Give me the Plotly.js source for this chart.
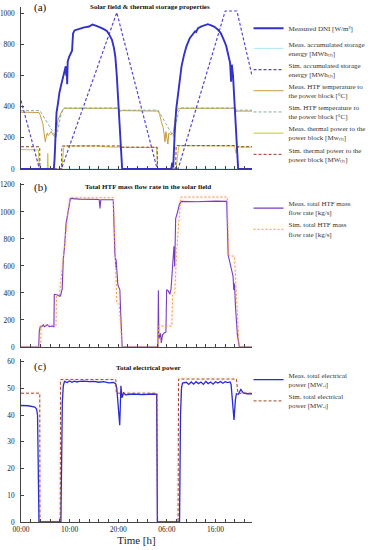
<!DOCTYPE html>
<html><head><meta charset="utf-8">
<script src="https://cdn.plot.ly/plotly-3.0.1.min.js"></script>
<style>html,body{margin:0;padding:0;background:#fff}#g{width:371px;height:550px}</style>
</head><body><div id="g"></div>
<script>
// ---------- x axis ticks ----------
const tickHours = [0, 10, 20, 30, 40];
const tickLabels = ['00:00', '10:00', '20:00', '06:00', '16:00'];

// ---------- (a) Solar field & thermal storage ----------
const dniT = [0,6.75,6.9,7.1,7.3,7.6,7.9,8.3,8.7,9.0,9.2,9.3,9.4,9.5,9.6,9.9,10.3,10.5,10.7,11.0,11.5,12.0,13.0,14.0,14.7,15.5,16.0,16.6,17.2,17.7,18.2,18.7,19.1,19.4,19.7,19.9,20.2,20.5,20.8,
  30.9,31.1,31.3,31.45,31.6,31.9,32.3,32.6,33.0,33.5,34.0,34.7,35.4,35.8,36.0,36.4,37.0,37.7,38.4,39.1,39.8,40.5,41.1,41.7,42.2,42.6,43.0,43.2,43.35,43.6,43.9,44.2,44.45,44.65,47.5];
const dniV = [0,0,60,230,360,420,490,545,590,625,660,600,650,545,690,720,750,760,870,890,895,900,910,915,928,920,915,905,895,885,860,830,780,720,600,480,300,130,0,
  0,40,10,150,230,380,487,580,658,730,786,840,872,885,880,904,915,925,930,922,913,895,872,830,790,735,680,560,670,600,420,250,100,0,0];

const mStoT = [0, 47.5];
const mStoV = [0, 0];

const sStoT = [0,3.8,8.3,19.7,28.0,32.3,42.0,44.4,47.5];
const sStoV = [440,0,0,1005,0,0,1015,1015,600];

const mTempT = [0,3.7,3.9,4.2,4.5,4.75,5.0,5.2,5.4,5.6,5.9,6.2,6.6,6.9,7.2,7.6,8.0,8.3,8.6,8.9,20.0,20.3,20.6,28.2,28.5,28.9,29.2,29.4,29.6,29.8,30.0,30.2,30.4,30.7,31.0,31.3,31.6,31.9,32.4,44.0,44.2,44.5,47.5];
const mTempV = [365,363,350,320,290,230,175,208,230,215,225,240,220,208,220,315,345,365,382,390,390,368,375,372,350,300,270,230,175,240,200,160,230,220,225,230,300,365,390,390,368,372,372];

const sTempT = [0,3.9,7.2,7.6,8.2,8.7,9.0,20.0,20.3,28.2,31.3,31.8,32.4,33.0,44.0,44.3,47.5];
const sTempV = [375,375,205,250,350,385,392,392,378,378,210,280,370,392,392,378,378];

const mPowT = [0,3.6,3.75,5.4,5.5,5.6,8.4,8.6,8.8,9.0,16.0,17.0,20.0,27.9,28.1,31.9,32.1,32.4,32.7,43.8,44.0,44.2,44.4,47.5];
const mPowV = [125,122,0,0,100,0,0,70,140,148,148,143,140,138,0,0,60,140,150,148,135,100,140,141];

const sPowT = [0,3.85,3.9,8.3,8.4,8.5,20.5,20.7,28.0,28.05,31.8,31.9,44.0,44.1,47.5];
const sPowV = [143,143,0,0,140,148,148,140,140,0,0,150,150,143,143];

// ---------- (b) Total HTF mass flow rate ----------
const mFlowT = [0,3.65,3.75,3.95,4.3,4.6,4.8,5.1,5.4,5.8,6.3,6.77,6.85,7.5,8.0,8.13,8.47,8.7,8.8,8.85,8.95,9.28,9.62,10.16,12,14,16.06,16.25,16.4,18.97,19.1,19.3,19.45,19.5,19.55,19.92,20.33,20.5,20.8,
  28.15,28.25,28.35,28.7,28.85,29.1,29.5,29.8,29.95,30.3,30.6,30.85,31.1,31.3,31.45,31.6,31.8,32.1,32.6,33.0,36,40,42.3,42.6,43.2,43.4,43.6,43.75,43.9,44.1,44.5,44.9,47.5];
const mFlowV = [0,0,115,150,150,165,150,155,165,150,155,150,390,385,375,380,430,650,720,680,740,917,977,1100,1095,1095,1092,1025,1090,1090,810,695,633,590,650,460,423,250,0,
  0,420,60,100,30,90,105,110,425,415,390,430,560,670,745,595,950,988,1060,1078,1075,1080,1078,680,595,560,525,423,470,300,90,0,0];

const sFlowT = [0,4.05,4.1,7.2,7.3,7.9,8.5,9.2,9.8,10.1,19.0,19.4,19.5,19.7,20.2,20.8,28.2,28.3,31.0,31.2,31.6,32.0,32.5,32.9,42.4,42.7,43.9,44.4,44.85,47.5];
const sFlowV = [0,0,160,160,375,385,600,850,1040,1105,1105,680,520,330,315,0,0,155,155,385,395,700,950,1110,1110,680,670,300,0,0];

// ---------- (c) Total electrical power ----------
const mElT = [0,1.5,2.85,3.2,3.4,3.7,8.2,8.35,8.5,8.7,8.94,9.5,10,10.5,11,11.5,12,13,14,15,16,17,18,19.0,19.45,19.7,20.3,20.55,20.75,21.1,21.5,23,25,27,27.9,28.05,
  32.6,32.8,33.0,33.2,34,34.5,35,35.5,36,36.5,37,37.5,38,38.5,39,39.5,40,40.5,41,41.5,42,42.5,43.0,43.2,43.8,44.1,44.3,44.7,45.2,45.7,46.5,47.5];
const mElV = [43.6,43.5,43.0,42.3,40,0,0,20,45,51,52.6,52.2,52.8,52.3,52.7,52.4,52.6,52.7,52.5,52.6,52.3,52.5,52.1,52.2,51.8,50,36.2,51,46.5,48.3,47.6,47.9,47.7,47.9,47.8,0,
  0,40,50,52,52.3,51.5,52.4,51.6,52.5,51.8,52.4,51.5,52.6,51.8,52.4,51.6,52.5,52,52.6,51.9,52.5,52.2,52.4,51.5,38.2,46,48,47.8,49.6,48.3,48,48];

const sElT = [0,3.86,3.9,8.06,8.15,19.5,19.6,27.95,28.05,32.3,32.4,44.3,44.6,47.5];
const sElV = [48.2,48.2,0,0,53.3,53.3,48.2,48.2,0,0,53.5,53.5,48.2,48.2];

// ---------- figure ----------
const FONT = 'Liberation Serif, Times New Roman, serif';
function ln(x, y, name, color, width, dash, xa, ya, leg, rank) {
  return {x: x, y: y, name: name, type: 'scatter', mode: 'lines',
    line: {color: color, width: width, dash: dash || 'solid'},
    xaxis: xa, yaxis: ya, legend: leg, legendrank: rank, hoverinfo: 'skip'};
}
function halo(x, y, xa, ya) {
  return {x: x, y: y, type: 'scatter', mode: 'lines', showlegend: false, hoverinfo: 'skip',
    line: {color: 'rgba(248,190,220,0.13)', width: 5}, xaxis: xa, yaxis: ya};
}
const D = '3px,2px';
const traces = [
  halo(sFlowT, sFlowV, 'x2', 'y2'),
  halo(sElT, sElV, 'x3', 'y3'),
  ln(mStoT, mStoV, 'Meas. accumulated storage<br>energy [MWhₜₕ]', '#a8e8f4', 1, null, 'x', 'y', 'legend', 2),
  ln(mTempT, mTempV, 'Meas. HTF temperature to<br>the power block [°C]', '#c99a3c', 1, null, 'x', 'y', 'legend', 4),
  ln(sTempT, sTempV, 'Sim. HTF temperature to<br>the power block [°C]', '#7fb0a4', 1, D, 'x', 'y', 'legend', 5),
  ln(mPowT, mPowV, 'Meas. thermal power to the<br>power block [Mwₜₕ]', '#c4c832', 1, null, 'x', 'y', 'legend', 6),
  ln(sPowT, sPowV, 'Sim. thermal power to the<br>power block [MWₜₕ]', '#9a3a2a', 1, D, 'x', 'y', 'legend', 7),
  ln(sStoT, sStoV, 'Sim. accumulated storage<br>energy [MWhₜₕ]', '#5646d2', 1.2, D, 'x', 'y', 'legend', 3),
  ln(dniT, dniV, 'Measured DNI [W/m²]', '#3232c8', 1.9, null, 'x', 'y', 'legend', 1),

  ln(mFlowT, mFlowV, 'Meas. total HTF mass<br>flow rate [kg/s]', '#7a3cc0', 1.1, null, 'x2', 'y2', 'legend2', 1),
  ln(sFlowT, sFlowV, 'Sim. total HTF mass<br>flow rate [kg/s]', '#e8a030', 1, '2px,2px', 'x2', 'y2', 'legend2', 2),

  ln(mElT, mElV, 'Meas. total electrical<br>power [MWₑₗ]', '#2a2ad8', 1.3, null, 'x3', 'y3', 'legend3', 1),
  ln(sElT, sElV, 'Sim. total electrical<br>power [MWₑₗ]', '#9a4a2a', 1, D, 'x3', 'y3', 'legend3', 2)
];

function xax(anchor, showLabels) {
  return {domain: [0, 1], anchor: anchor, range: [0, 47.5],
    tickmode: 'array', tickvals: tickHours, ticktext: tickLabels,
    showticklabels: showLabels, ticks: 'inside', ticklen: 3, tickcolor: '#444',
    minor: {tickmode: 'linear', tick0: 0, dtick: 2, ticks: 'inside', ticklen: 3, tickcolor: '#444'},
    showline: true, linecolor: '#444', linewidth: 1, showgrid: false, zeroline: false,
    tickfont: {family: FONT, size: 7.5, color: '#222'}};
}
function yax(anchor, dom, range, dtick) {
  return {domain: dom, anchor: anchor, range: range, dtick: dtick, tick0: 0,
    ticks: 'inside', ticklen: 3, tickcolor: '#444', ticklabelstandoff: 4,
    showline: true, linecolor: '#444', linewidth: 1, showgrid: false, zeroline: false,
    tickfont: {family: FONT, size: 7.3, color: '#222'}};
}
const legStyle = (y) => ({x: 0.985, y: y, xanchor: 'left', yanchor: 'top', bgcolor: 'rgba(0,0,0,0)',
  borderwidth: 0, font: {family: FONT, size: 7, color: '#333'}, itemwidth: 30, tracegroupgap: 0});

const xa3 = xax('y3', true);
xa3.title = {text: 'Time [h]', font: {family: FONT, size: 11, color: '#222'}, standoff: 2};

const ann = (text, x, y, size, bold) => ({text: bold ? '<b>' + text + '</b>' : text, xref: 'paper', yref: 'paper',
  x: x, y: y, xanchor: 'center', yanchor: 'middle', showarrow: false, font: {family: FONT, size: size, color: '#111'}});

const layout = {
  width: 371, height: 550, margin: {l: 21, r: 116, t: 0, b: 0, pad: 0},
  paper_bgcolor: '#fff', plot_bgcolor: '#fff', showlegend: true,
  font: {family: FONT},
  xaxis: xax('y', false), xaxis2: xax('y2', false), xaxis3: xa3,
  yaxis: yax('x', [0.69273, 0.98709], [0, 1040], 200),
  yaxis2: yax('x2', [0.36909, 0.66745], [0, 1215], 200),
  yaxis3: yax('x3', [0.05091, 0.34727], [0, 61], 10),
  legend: legStyle(0.975),
  legend2: legStyle(0.650),
  legend3: legStyle(0.338),
  annotations: [
    ann('(a)', (41 - 21) / 234, 1 - 8 / 550, 11, false),
    ann('Solar field &amp; thermal storage properties', (152 - 21) / 234, 1 - 7 / 550, 7, true),
    ann('(b)', (41 - 21) / 234, 1 - 187 / 550, 11, false),
    ann('Total HTF mass flow rate in the solar field', (150 - 21) / 234, 1 - 187 / 550, 7, true),
    ann('(c)', (41 - 21) / 234, 1 - 366 / 550, 11, false),
    ann('Total electrical power', (150 - 21) / 234, 1 - 368 / 550, 7, true)
  ]
};
Plotly.newPlot('g', traces, layout, {displayModeBar: false, staticPlot: true});
</script></body></html>
